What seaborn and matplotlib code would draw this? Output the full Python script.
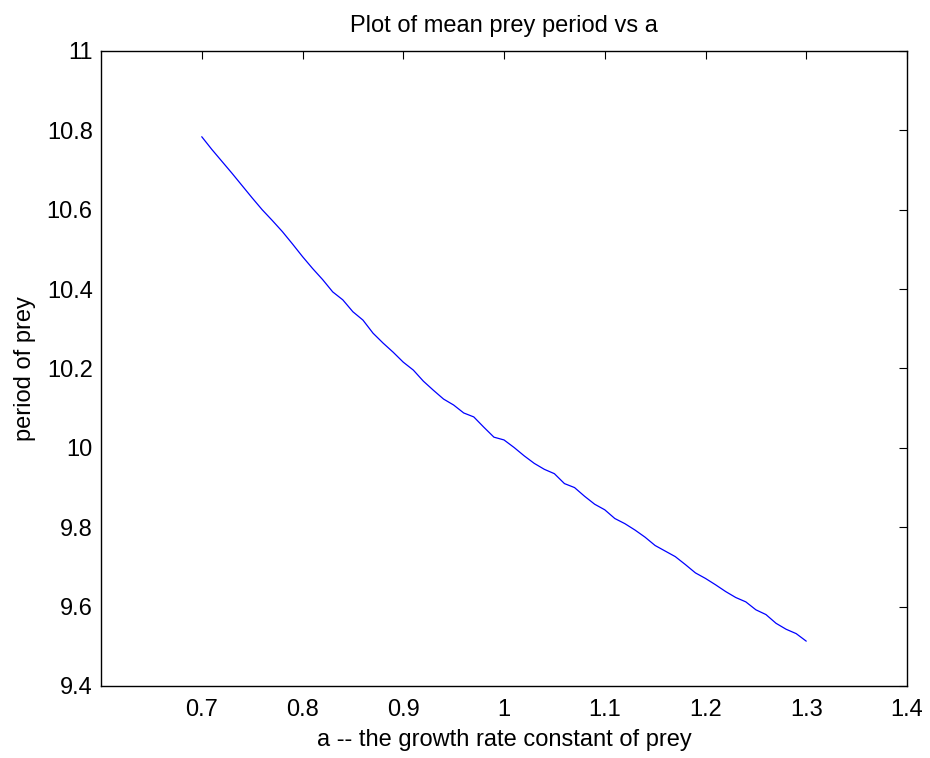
import matplotlib
matplotlib.use("Agg")
import matplotlib.pyplot as plt
import seaborn as sns
import pandas as pd

a_values = [0.70, 0.71, 0.72, 0.73, 0.74, 0.75, 0.76, 0.77, 0.78, 0.79,
            0.80, 0.81, 0.82, 0.83, 0.84, 0.85, 0.86, 0.87, 0.88, 0.89,
            0.90, 0.91, 0.92, 0.93, 0.94, 0.95, 0.96, 0.97, 0.98, 0.99,
            1.00, 1.01, 1.02, 1.03, 1.04, 1.05, 1.06, 1.07, 1.08, 1.09,
            1.10, 1.11, 1.12, 1.13, 1.14, 1.15, 1.16, 1.17, 1.18, 1.19,
            1.20, 1.21, 1.22, 1.23, 1.24, 1.25, 1.26, 1.27, 1.28, 1.29,
            1.30]
period_values = [10.784, 10.752, 10.722, 10.692, 10.661, 10.630, 10.600, 10.573, 10.545, 10.514,
                 10.482, 10.452, 10.424, 10.393, 10.373, 10.343, 10.322, 10.289, 10.264, 10.241,
                 10.216, 10.196, 10.168, 10.145, 10.123, 10.108, 10.088, 10.078, 10.052, 10.027,
                 10.020, 10.001, 9.980, 9.961, 9.946, 9.935, 9.910, 9.900, 9.878, 9.858,
                 9.844, 9.822, 9.809, 9.793, 9.775, 9.754, 9.740, 9.726, 9.706, 9.685,
                 9.671, 9.655, 9.638, 9.623, 9.612, 9.592, 9.580, 9.558, 9.543, 9.532,
                 9.513]
x_ticks = [0.7, 0.8, 0.9, 1.0, 1.1, 1.2, 1.3, 1.4]
x_tick_labels = ["0.7", "0.8", "0.9", "1", "1.1", "1.2", "1.3", "1.4"]
y_ticks = [9.4, 9.6, 9.8, 10.0, 10.2, 10.4, 10.6, 10.8, 11.0]
y_tick_labels = ["9.4", "9.6", "9.8", "10", "10.2", "10.4", "10.6", "10.8", "11"]

sns.set_style("white")
plt.rcParams['font.family'] = ['Liberation Sans', 'DejaVu Sans']
plt.rcParams['text.color'] = 'black'
plt.rcParams['axes.labelcolor'] = 'black'

df = pd.DataFrame({"a": a_values, "period": period_values})

fig = plt.figure(figsize=(9.3, 7.58), dpi=100)
ax = fig.add_axes([101/930, 1 - 686/758, (907-101)/930, (686-51)/758])
sns.lineplot(data=df, x="a", y="period", ax=ax, color=(0, 0, 1), linewidth=0.9)

ax.set_xlim(0.6, 1.4)
ax.set_ylim(9.4, 11.0)
ax.set_xticks(x_ticks)
ax.set_xticklabels(x_tick_labels)
ax.set_yticks(y_ticks)
ax.set_yticklabels(y_tick_labels)
ax.tick_params(direction="in", length=6, width=0.8, top=True, right=True,
               labelsize=17, colors="black")
ax.tick_params(axis="x", pad=9)
ax.tick_params(axis="y", pad=6)
for s in ax.spines.values():
    s.set_visible(True)
    s.set_color("black")
    s.set_linewidth(1.0)

ax.set_xlabel("a -- the growth rate constant of prey", fontsize=17, labelpad=6, color="black")
ax.set_ylabel("period of prey", fontsize=17, labelpad=8, color="black")
ax.set_title("Plot of mean prey period vs a", fontsize=17, pad=14, color="black")

fig.savefig("out.png", dpi=100)
